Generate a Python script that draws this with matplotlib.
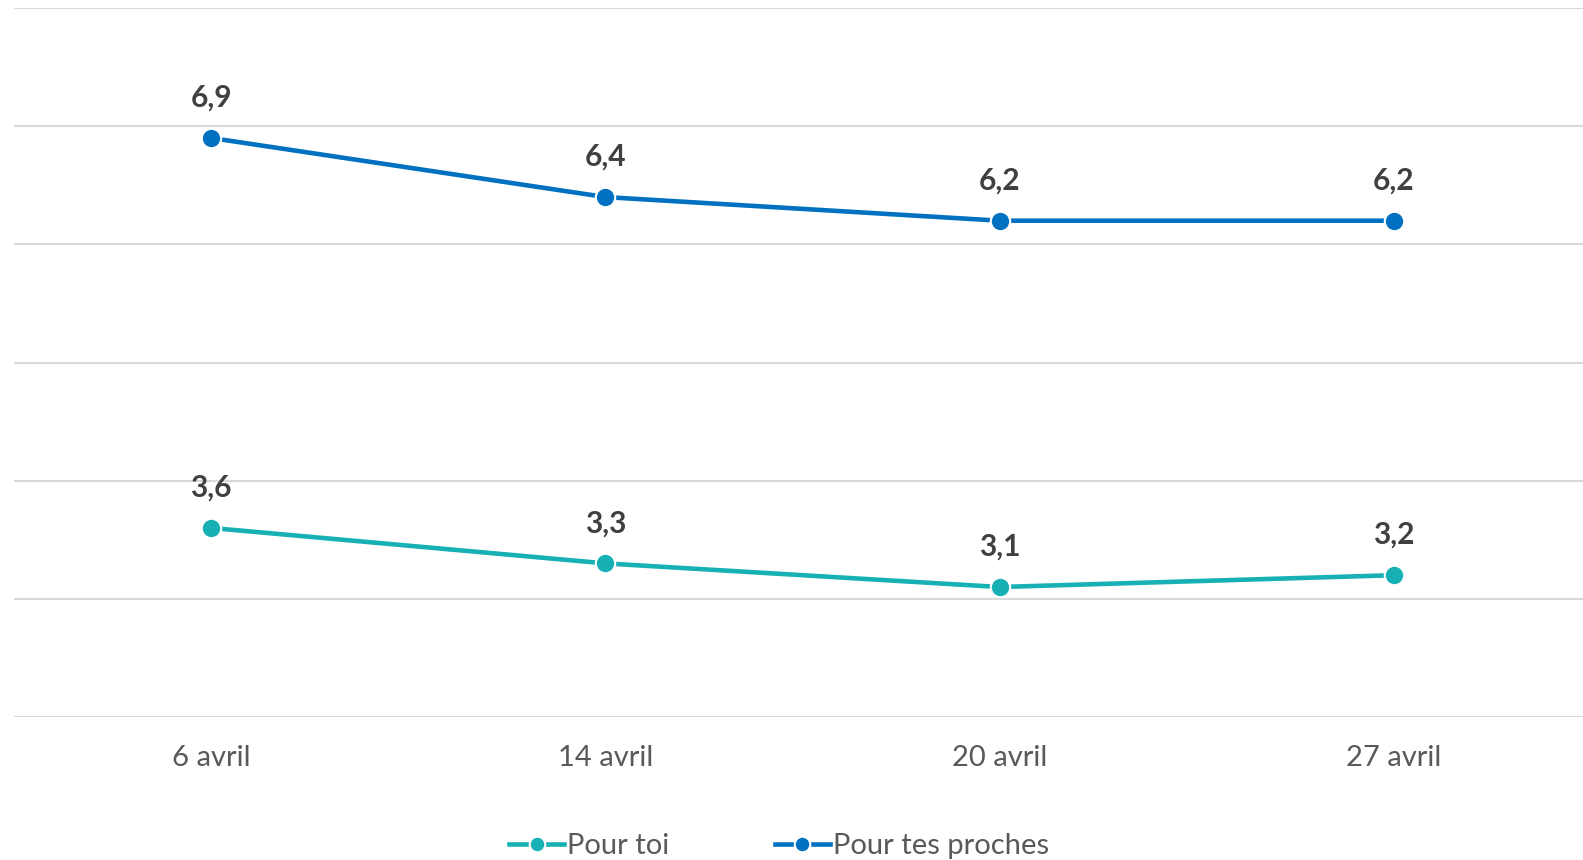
import matplotlib
matplotlib.use("Agg")
import matplotlib.pyplot as plt

plt.rcParams['font.family'] = ['Lato', 'DejaVu Sans']

dates = ['6 avril', '14 avril', '20 avril', '27 avril']
pour_toi = [3.6, 3.3, 3.1, 3.2]
pour_proches = [6.9, 6.4, 6.2, 6.2]
labels_toi = ['3,6', '3,3', '3,1', '3,2']
labels_proches = ['6,9', '6,4', '6,2', '6,2']

teal = '#17B0B5'
blue = '#0070C0'

fig = plt.figure(figsize=(15.83, 8.6), dpi=100)
ax = fig.add_axes([14 / 1583, 143 / 860, 1569 / 1583, 709 / 860])

x = range(len(dates))
ax.plot(x, pour_toi, color=teal, lw=3.3, marker='o', ms=14,
        mec='white', mew=1.5, label='Pour toi', zorder=3)
ax.plot(x, pour_proches, color=blue, lw=3.3, marker='o', ms=14,
        mec='white', mew=1.5, label='Pour tes proches', zorder=3)

for xi, v, t in zip(x, pour_toi, labels_toi):
    ax.annotate(t, (xi, v), xytext=(0, 29), textcoords='offset points',
                ha='center', va='center', fontsize=21.5, fontweight='bold', color='#404040')
for xi, v, t in zip(x, pour_proches, labels_proches):
    ax.annotate(t, (xi, v), xytext=(0, 29), textcoords='offset points',
                ha='center', va='center', fontsize=21.5, fontweight='bold', color='#404040')

ax.set_ylim(2, 8)
ax.set_xlim(-0.5, 3.48)
ax.set_yticks(range(2, 9))
ax.yaxis.grid(True, color='#D9D9D9', lw=1.5)
ax.set_axisbelow(True)
ax.tick_params(axis='y', left=False, labelleft=False)
ax.tick_params(axis='x', bottom=False, pad=17, labelsize=21, labelcolor='#595959')
ax.set_xticks(list(x))
ax.set_xticklabels(dates)
for s in ax.spines.values():
    s.set_visible(False)

fig.legend(loc='center', bbox_to_anchor=(779 / 1583, 1 - 846 / 860), ncol=2,
           frameon=False, fontsize=21, labelcolor='#595959', handlelength=1.9,
           handletextpad=0.1, columnspacing=3.6, markerscale=0.8)

fig.savefig('out.png', dpi=100)
